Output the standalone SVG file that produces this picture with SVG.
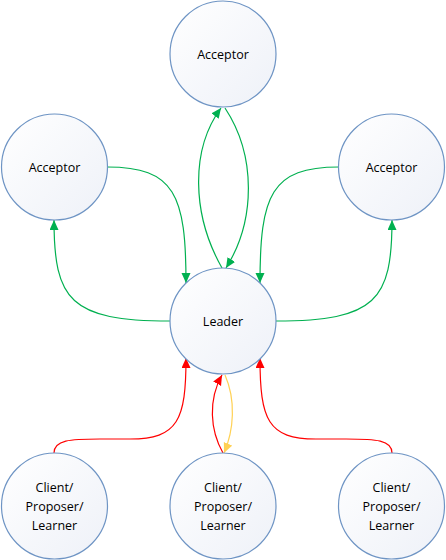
<svg xmlns="http://www.w3.org/2000/svg" width="446" height="560" viewBox="0 0 446 560">
<defs>
<linearGradient id="gf" x1="0" y1="0" x2="1" y2="1">
<stop offset="0" stop-color="#ffffff"/>
<stop offset="1" stop-color="#eef1f8"/>
</linearGradient>
<marker id="ag" markerUnits="userSpaceOnUse" markerWidth="11" markerHeight="10" refX="10" refY="4.5" orient="auto"><path d="M0,0 L10,4.5 L0,9 z" fill="#00b050"/></marker>
<marker id="ar" markerUnits="userSpaceOnUse" markerWidth="11" markerHeight="10" refX="10" refY="4.5" orient="auto"><path d="M0,0 L10,4.5 L0,9 z" fill="#ff0000"/></marker>
<marker id="ay" markerUnits="userSpaceOnUse" markerWidth="11" markerHeight="10" refX="10" refY="4.5" orient="auto"><path d="M0,0 L10,4.5 L0,9 z" fill="#ffd154"/></marker>
</defs>
<style>
.node circle{fill:url(#gf);stroke:#6e94c4;stroke-width:1.2}
.node text{font-family:"Open Sans","Liberation Sans",Arial,sans-serif;font-size:12.5px;fill:#000;text-anchor:middle}
.c{fill:none;stroke-width:1.2}
.g{stroke:#00b050;marker-end:url(#ag)}
.r{stroke:#ff0000;marker-end:url(#ar)}
.y{stroke:#ffd154;marker-end:url(#ay)}
</style>
<rect width="446" height="560" fill="#ffffff"/>
<g id="connectors">
<path class="c g" d="M107,167 C175,167 186,195 186,283"/>
<path class="c g" d="M339,167 C271,167 260,195 260,283"/>
<path class="c g" d="M170,321 C70,321 54,300 54,220"/>
<path class="c g" d="M276,321 C376,321 392,300 392,220"/>
<path class="c g" d="M222,268 C192,215 190,150 221,108"/>
<path class="c g" d="M225,108 C256,155 256,220 226,268"/>
<path class="c r" d="M54,453 C54,440 70,439 100,439 L130,439 C178,439 186,420 186,358"/>
<path class="c r" d="M392,453 C392,440 376,439 346,439 L316,439 C268,439 260,420 260,358"/>
<path class="c r" d="M223,453 C210,430 208,400 222,375"/>
<path class="c y" d="M225,375 C236,400 234,430 224,453"/>
</g>
<g id="acceptor-top" class="node"><circle cx="223" cy="54" r="53"/><text x="223" y="59">Acceptor</text></g>
<g id="acceptor-left" class="node"><circle cx="54.5" cy="167" r="53"/><text x="54.5" y="172">Acceptor</text></g>
<g id="acceptor-right" class="node"><circle cx="391.5" cy="167" r="53"/><text x="391.5" y="172">Acceptor</text></g>
<g id="leader" class="node"><circle cx="223" cy="321" r="53"/><text x="223" y="326">Leader</text></g>
<g id="client-left" class="node"><circle cx="54.5" cy="506" r="53"/><text x="54.5" y="492">Client/</text><text x="54.5" y="511">Proposer/</text><text x="54.5" y="530">Learner</text></g>
<g id="client-middle" class="node"><circle cx="223" cy="506" r="53"/><text x="223" y="492">Client/</text><text x="223" y="511">Proposer/</text><text x="223" y="530">Learner</text></g>
<g id="client-right" class="node"><circle cx="391.5" cy="506" r="53"/><text x="391.5" y="492">Client/</text><text x="391.5" y="511">Proposer/</text><text x="391.5" y="530">Learner</text></g>
</svg>
